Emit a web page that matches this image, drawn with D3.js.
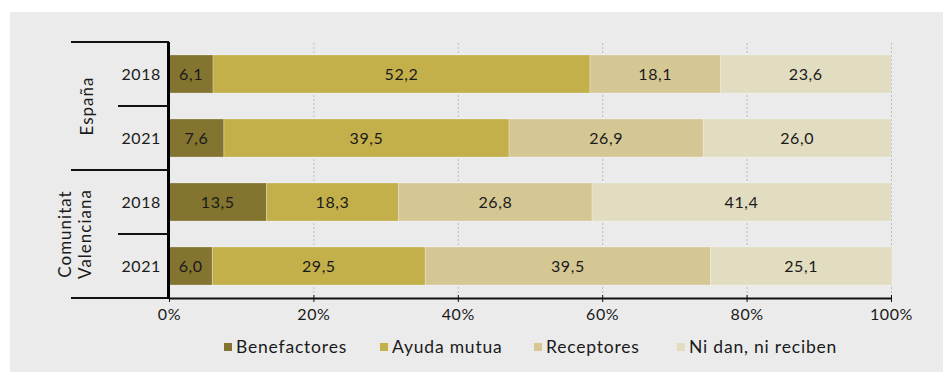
<!DOCTYPE html>
<html>
<head>
<meta charset="utf-8">
<script src="https://cdn.jsdelivr.net/npm/d3@7"></script>
<style>
  html, body { margin: 0; padding: 0; background: #ffffff; }
  svg { display: block; font-family: "Lato", "Open Sans", sans-serif; }
</style>
</head>
<body>
<svg id="chart" width="943" height="372"></svg>
<script>
// Data
const groups = ["España", "Comunitat Valenciana"];
const years = ["2018", "2021"];
const rowGroup = ["España", "España", "Comunitat Valenciana", "Comunitat Valenciana"];
const rowYear = ["2018", "2021", "2018", "2021"];
const series = ["Benefactores", "Ayuda mutua", "Receptores", "Ni dan, ni reciben"];
const benefactores = [6.1, 7.6, 13.5, 6.0];
const ayudaMutua = [52.2, 39.5, 18.3, 29.5];
const receptores = [18.1, 26.9, 26.8, 39.5];
const niDanNiReciben = [23.6, 26.0, 41.4, 25.1];
const xTicks = [0, 20, 40, 60, 80, 100];
const colors = ["#83742f", "#c4b04b", "#d4c794", "#e2dcc1"];

const values = [benefactores, ayudaMutua, receptores, niDanNiReciben];
const rows = rowYear.map((y, i) => {
  const r = { id: i, group: rowGroup[i], year: y };
  series.forEach((s, k) => r[s] = values[k][i]);
  return r;
});

const FS = 16;
const LS = "0.6px";
const ink = "#1a1a1a";

const svg = d3.select("#chart");

// panel background
svg.append("rect").attr("x", 10).attr("y", 12).attr("width", 933).attr("height", 360)
  .attr("fill", "#ebebeb");

const x = d3.scaleLinear().domain([0, 100]).range([169, 891]);
const y = d3.scaleBand().domain(rows.map(r => r.id)).range([42, 298]).paddingInner(0.406).paddingOuter(0.203);

const stack = d3.stack().keys(series)(rows);

// dotted gridlines
svg.append("g").selectAll("line").data(xTicks.filter(t => t > 0)).join("line")
  .attr("x1", d => x(d) + 0.5).attr("x2", d => x(d) + 0.5)
  .attr("y1", 43).attr("y2", 298)
  .attr("stroke", "#bdbdbd").attr("stroke-width", 1).attr("stroke-dasharray", "2,2");

// bars
const layer = svg.append("g").selectAll("g").data(stack).join("g")
  .attr("fill", (d, i) => colors[i]);
layer.selectAll("rect").data(d => d).join("rect")
  .attr("x", d => x(d[0]))
  .attr("y", (d, i) => y(i))
  .attr("width", d => x(d[1]) - x(d[0]))
  .attr("height", y.bandwidth())
  .attr("stroke", "rgba(255,255,255,0.25)").attr("stroke-width", 1);

// value labels
const lab = svg.append("g").attr("font-size", FS).attr("letter-spacing", LS)
  .attr("fill", ink).attr("text-anchor", "middle");
stack.forEach(s => {
  s.forEach((d, i) => {
    lab.append("text")
      .attr("x", (x(d[0]) + x(d[1])) / 2)
      .attr("y", y(i) + y.bandwidth() / 2)
      .attr("dy", "0.36em")
      .text(d3.format(".1f")(d.data[s.key]).replace(".", ","));
  });
});

// x axis
const xAxis = d3.axisBottom(x).tickValues(xTicks).tickFormat(d => d + "%").tickSize(4).tickSizeOuter(0);
const gx = svg.append("g").attr("transform", "translate(0,298)").call(xAxis);
gx.select(".domain").attr("stroke", "#111").attr("stroke-width", 2);
gx.selectAll(".tick line").attr("stroke", "#111").attr("y1", -3);
gx.selectAll(".tick text").attr("font-size", FS).attr("letter-spacing", LS).attr("fill", ink)
  .attr("dy", "0.95em").attr("font-family", "Lato, sans-serif");
// extend axis line under the category labels
svg.append("line").attr("x1", 71).attr("x2", 169).attr("y1", 298).attr("y2", 298)
  .attr("stroke", "#111").attr("stroke-width", 2);

// left vertical axis
svg.append("line").attr("x1", 168.5).attr("x2", 168.5).attr("y1", 42).attr("y2", 299)
  .attr("stroke", "#000").attr("stroke-width", 3);

// hierarchical category separators
const step = y.step();
const groupTop = g => y(rows.find(r => r.group === g).id) - (step - y.bandwidth()) / 2;
const sep = svg.append("g").attr("stroke", "#111").attr("stroke-width", 2);
[groupTop(groups[0]), groupTop(groups[1])].forEach(yy => {
  sep.append("line").attr("x1", 71).attr("x2", 169).attr("y1", yy).attr("y2", yy);
});
rows.forEach((r, i) => {
  if (i > 0 && rows[i - 1].group === r.group) {
    const yy = y(i) - (step - y.bandwidth()) / 2;
    sep.append("line").attr("x1", 118).attr("x2", 169).attr("y1", yy).attr("y2", yy);
  }
});

// year labels
svg.append("g").selectAll("text").data(rows).join("text")
  .attr("x", 161).attr("y", d => y(d.id) + y.bandwidth() / 2).attr("dy", "0.36em")
  .attr("text-anchor", "end").attr("font-size", FS).attr("letter-spacing", LS).attr("fill", ink)
  .text(d => d.year);

// group labels (rotated)
groups.forEach(g => {
  const ids = rows.filter(r => r.group === g).map(r => r.id);
  const cy = (y(ids[0]) + y(ids[ids.length - 1]) + y.bandwidth()) / 2;
  const words = g === "Comunitat Valenciana" ? ["Comunitat", "Valenciana"] : [g];
  const t = svg.append("text").attr("transform", `translate(${words.length > 1 ? 75 : 87},${cy}) rotate(-90)`)
    .attr("text-anchor", "middle").attr("font-size", 17).attr("letter-spacing", "1px").attr("fill", ink);
  words.forEach((w, k) => {
    t.append("tspan").attr("x", 0).attr("dy", k === 0 ? (words.length > 1 ? "-0.25em" : "0.35em") : "1.2em").text(w);
  });
});

// legend
const legendX = [224, 380, 534, 677];
const lg = svg.append("g").selectAll("g").data(series).join("g")
  .attr("transform", (d, i) => `translate(${legendX[i]},347)`);
lg.append("rect").attr("x", 0).attr("y", -4).attr("width", 8).attr("height", 8)
  .attr("fill", (d, i) => colors[i]);
lg.append("text").attr("x", 12).attr("y", 0).attr("dy", "0.36em")
  .attr("font-size", 17.5).attr("letter-spacing", "0.8px").attr("fill", ink).text(d => d);
</script>
</body>
</html>
